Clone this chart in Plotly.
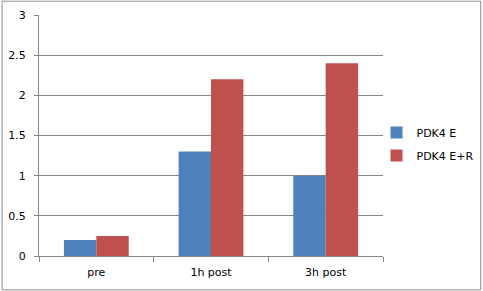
import plotly.graph_objects as go

categories = ["pre", "1h post", "3h post"]
series_names = ["PDK4 E", "PDK4 E+R"]
values_e = [0.2, 1.3, 1.0]
values_er = [0.25, 2.2, 2.4]
colors = ["#4F81BD", "#C0504D"]
y_ticks = [0, 0.5, 1, 1.5, 2, 2.5, 3]

W, H = 483, 291
L, R, T, B = 38.5, 99.5, 15.3, 35.3

fig = go.Figure()
for name, vals, c in zip(series_names, [values_e, values_er], colors):
    fig.add_trace(go.Bar(x=categories, y=vals, name=name, legendgroup=name,
                         marker=dict(color=c, line=dict(width=0))))

pw = W - L - R
ph = H - T - B
fig.add_shape(type="rect", xref="paper", yref="paper",
              x0=(1.5 - L) / pw, x1=(W - 1.5 - L) / pw,
              y0=-(H - 1.5 - T - ph) / ph, y1=1 + (T - 1.5) / ph,
              line=dict(color="#8c8c8c", width=1))

fig.update_layout(
    width=W, height=H,
    margin=dict(l=L, r=R, t=T, b=B, pad=0, autoexpand=False),
    paper_bgcolor="white", plot_bgcolor="white",
    barmode="group", bargap=0.435, bargroupgap=0,
    font=dict(family="DejaVu Sans", size=11, color="black"),
    showlegend=True,
    legend=dict(x=(377 - L) / pw, xanchor="left", y=0.465, yanchor="middle",
                font=dict(size=11), itemwidth=30, tracegroupgap=4,
                bgcolor="rgba(0,0,0,0)"),
    xaxis=dict(showline=True, linecolor="#868686", linewidth=1,
               ticks="outside", tickson="boundaries", ticklen=5, tickcolor="#868686",
               showgrid=False, tickfont=dict(size=11), ticklabelstandoff=6),
    yaxis=dict(range=[0, 3], tickvals=y_ticks, ticktext=[f"{v:g}" for v in y_ticks],
               showline=True, linecolor="#868686", linewidth=1,
               ticks="outside", ticklen=4, tickcolor="#868686",
               showgrid=True, gridcolor="#868686", gridwidth=1,
               zeroline=False, tickfont=dict(size=11), ticklabelstandoff=6),
)
fig.write_html("out.html")
